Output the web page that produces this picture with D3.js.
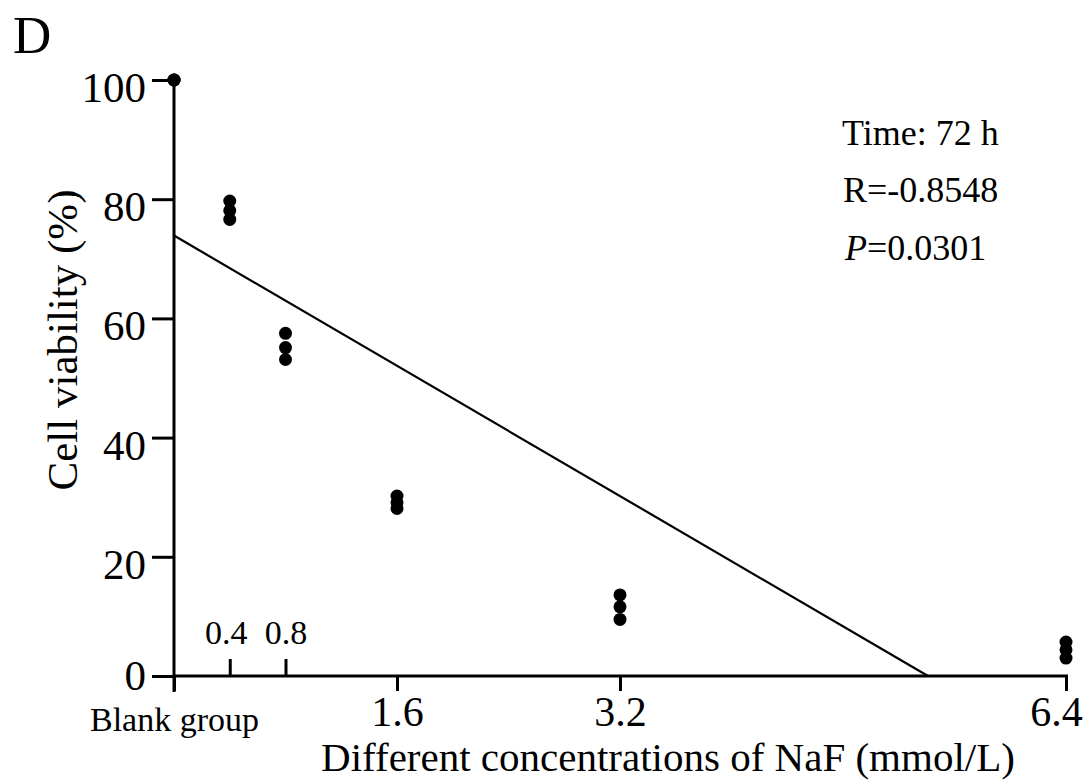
<!DOCTYPE html>
<html>
<head>
<meta charset="utf-8">
<script src="https://cdn.jsdelivr.net/npm/d3@7"></script>
<style>
    html, body { margin: 0; padding: 0; background: #ffffff; }
    svg { display: block; font-family: 'Liberation Serif', 'Times New Roman', serif; }
</style>
</head>
<body>
<div id="chart"></div>
<script>
const concentrations = [0, 0.4, 0.8, 1.6, 3.2, 6.4];
const viabilityReplicates = [
    [100, 100, 100],
    [79.7, 78.1, 76.6],
    [57.5, 55.1, 53.1],
    [30.2, 29.1, 28.1],
    [13.6, 11.6, 9.5],
    [5.7, 4.4, 3.0]
];
const majorTicks = [0, 1.6, 3.2, 6.4];
const majorTickLabels = ['Blank group', '1.6', '3.2', '6.4'];
const minorTicks = [0.4, 0.8];
const yTicks = [0, 20, 40, 60, 80, 100];
const fitLine = [[0, 73.9], [5.41, 0]];
const statsLines = ['Time: 72 h', 'R=-0.8548', 'P=0.0301'];

const width = 1083;
const height = 781;
const serif = 'Liberation Serif, Times New Roman, serif';

const svg = d3.select('#chart')
    .append('svg')
    .attr('width', width)
    .attr('height', height);

const xScale = d3.scaleLinear()
    .domain([0, 6.4])
    .range([174, 1066]);

const yScale = d3.scaleLinear()
    .domain([0, 100])
    .range([676, 80]);

const points = [];
concentrations.forEach((concentration, index) => {
    viabilityReplicates[index].forEach((value) => {
        points.push({ concentration, value });
    });
});

// panel letter
svg.append('text')
    .attr('x', 13)
    .attr('y', 53)
    .attr('font-size', 53)
    .text('D');

// y axis
svg.append('g')
    .attr('transform', `translate(${xScale(0)},0)`)
    .call(d3.axisLeft(yScale).tickValues(yTicks).tickSize(22).tickPadding(6).tickFormat(d3.format('d')))
    .call((group) => group.select('.domain')
        .attr('d', `M0,${yScale(100)}V${yScale(0) + 16}`)
        .attr('stroke-width', 3))
    .call((group) => group.selectAll('.tick line').attr('stroke-width', 3))
    .call((group) => group.selectAll('text')
        .attr('font-size', 43)
        .attr('font-family', serif)
        .attr('dy', (value) => value === 0 ? '0.32em' : '0.5em')
        .attr('fill', '#000'));

// x axis with major ticks below
svg.append('g')
    .attr('transform', `translate(0,${yScale(0)})`)
    .call(d3.axisBottom(xScale).tickValues(majorTicks).tickSize(15).tickPadding(5)
        .tickFormat((value, index) => majorTickLabels[index]))
    .call((group) => group.select('.domain')
        .attr('d', `M${xScale(0)},0H${xScale(6.4) + 2}`)
        .attr('stroke-width', 3))
    .call((group) => group.selectAll('.tick line').attr('stroke-width', 3))
    .call((group) => group.selectAll('text')
        .attr('font-family', serif)
        .attr('font-size', (value, index) => index === 0 ? 34 : 42)
        .attr('dy', (value, index) => index === 0 ? '1.02em' : '0.71em')
        .attr('dx', (value, index) => index === majorTicks.length - 1 ? -10 : 0)
        .attr('fill', '#000'));

// minor ticks pointing up
svg.append('g')
    .attr('transform', `translate(0,${yScale(0)})`)
    .call(d3.axisTop(xScale).tickValues(minorTicks).tickSize(17).tickPadding(15).tickFormat(d3.format('.1f')))
    .call((group) => group.select('.domain').remove())
    .call((group) => group.selectAll('.tick line').attr('stroke-width', 3))
    .call((group) => group.selectAll('text')
        .attr('font-family', serif)
        .attr('font-size', 34)
        .attr('dx', (value, index) => index === 0 ? -4 : 0)
        .attr('fill', '#000'));

// axis titles
svg.append('text')
    .attr('transform', 'rotate(-90)')
    .attr('x', -340)
    .attr('y', 77)
    .attr('text-anchor', 'middle')
    .attr('font-size', 43)
    .text('Cell viability (%)');

svg.append('text')
    .attr('x', 668)
    .attr('y', 771)
    .attr('text-anchor', 'middle')
    .attr('font-size', 41)
    .text('Different concentrations of NaF (mmol/L)');

// regression line
svg.append('line')
    .attr('x1', xScale(fitLine[0][0]))
    .attr('y1', yScale(fitLine[0][1]))
    .attr('x2', xScale(fitLine[1][0]))
    .attr('y2', yScale(fitLine[1][1]))
    .attr('stroke', '#000')
    .attr('stroke-width', 2.2);

// replicate points
svg.selectAll('.replicate-point')
    .data(points)
    .enter()
    .append('circle')
    .attr('class', 'replicate-point')
    .attr('cx', (datum) => xScale(datum.concentration))
    .attr('cy', (datum) => yScale(datum.value))
    .attr('r', 6.5)
    .attr('fill', '#000');

// stats annotation
const statsText = svg.append('g')
    .attr('font-size', 36);

statsText.append('text')
    .attr('x', 842)
    .attr('y', 145)
    .text(statsLines[0]);

statsText.append('text')
    .attr('x', 843)
    .attr('y', 202)
    .text(statsLines[1]);

const pLine = statsText.append('text')
    .attr('x', 845)
    .attr('y', 260);
pLine.append('tspan').attr('font-style', 'italic').text(statsLines[2].slice(0, 1));
pLine.append('tspan').text(statsLines[2].slice(1));
</script>
</body>
</html>
